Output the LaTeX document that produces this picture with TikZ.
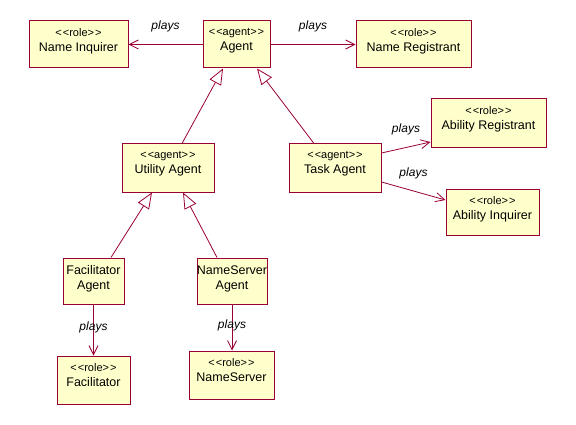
\documentclass[tikz,border=0pt]{standalone}
\usepackage{fontspec}
\setmainfont{Liberation Sans}
\usetikzlibrary{arrows.meta}
\definecolor{umlline}{RGB}{153,0,51}
\definecolor{umlfill}{RGB}{255,255,204}
\newcommand{\stereo}[1]{{\fontsize{11}{14}\selectfont<\kern1pt<#1>\kern1pt>}}

\begin{document}
\begin{tikzpicture}[
    x=1pt, y=1pt,
    cls/.style={rectangle, draw=umlline, fill=umlfill, line width=1pt,
                minimum height=47pt, inner sep=0pt,
                label={[clstext]north:#1}},
    clstext/.style={anchor=north, yshift=-8pt, inner sep=0pt, align=center,
                    font=\fontsize{12.5}{15}\selectfont},
    plays/.style={-{Straight Barb[length=9pt, width=9pt]}, line width=0.8pt, umlline},
    isa/.style={-{Triangle[open, length=16pt, width=13pt]}, line width=0.8pt, umlline},
    verb/.style={font=\fontsize{12}{14}\selectfont\itshape, inner sep=0pt, text=black}
]
\useasboundingbox (0,0) rectangle (576,424);

% Top row
\node[cls={\stereo{role}\\Name Inquirer}, minimum width=99pt] (inq) at (78.5,379.5) {};
\node[cls={\stereo{agent}\\Agent}, minimum width=67pt] (agent) at (236.5,379.5) {};
\node[cls={\stereo{role}\\Name Registrant}, minimum width=115pt] (nreg) at (413.5,379.5) {};

% Middle row
\node[cls={\stereo{agent}\\Utility Agent}, minimum width=92pt, minimum height=48pt] (util) at (168,256) {};
\node[cls={\stereo{agent}\\Task Agent}, minimum width=92pt, minimum height=48pt] (task) at (335,256) {};
\node[cls={\stereo{role}\\Ability Registrant}, minimum width=115pt, minimum height=48pt] (areg) at (488.5,301) {};
\node[cls={\stereo{role}\\Ability Inquirer}, minimum width=93pt, minimum height=46pt] (ainq) at (492.5,212) {};

% Lower rows
\node[cls={Facilitator\\Agent}, minimum width=61pt, minimum height=46pt] (facag) at (93.5,143) {};
\node[cls={NameServer\\Agent}, minimum width=70pt, minimum height=46pt] (nsag) at (232,143) {};
\node[cls={\stereo{role}\\Facilitator}, minimum width=73pt, minimum height=48pt] (fac) at (93.5,44) {};
\node[cls={\stereo{role}\\NameServer}, minimum width=85pt, minimum height=48pt] (ns) at (231.5,49) {};

% Generalisations
\draw[isa] ([xshift=14pt]util.north) -- ([xshift=-13.5pt]agent.south);
\draw[isa] ([xshift=-21pt]task.north) -- ([xshift=20.5pt]agent.south);
\draw[isa] ([xshift=17.5pt]facag.north) -- ([xshift=-16pt]util.south);
\draw[isa] ([xshift=-15pt]nsag.north) -- ([xshift=15pt]util.south);

% Roles played
\draw[plays] (agent.west) -- (inq.east) node[verb, midway, above=12pt] {plays};
\draw[plays] (agent.east) -- (agent.east -| nreg.west) node[verb, midway, above=12pt] {plays};
\draw[plays] ([yshift=15pt]task.east) -- ([yshift=-19pt]areg.west) node[verb, midway, above=12pt] {plays};
\draw[plays] ([yshift=-14pt]task.east) -- ([yshift=12pt]ainq.west) node[verb, midway, above=12pt] {plays};
\draw[plays] (facag.south) -- (fac.north) node[verb, pos=0.45] {plays};
\draw[plays] (nsag.south) -- (nsag.south |- ns.north) node[verb, pos=0.45] {plays};
\end{tikzpicture}
\end{document}
